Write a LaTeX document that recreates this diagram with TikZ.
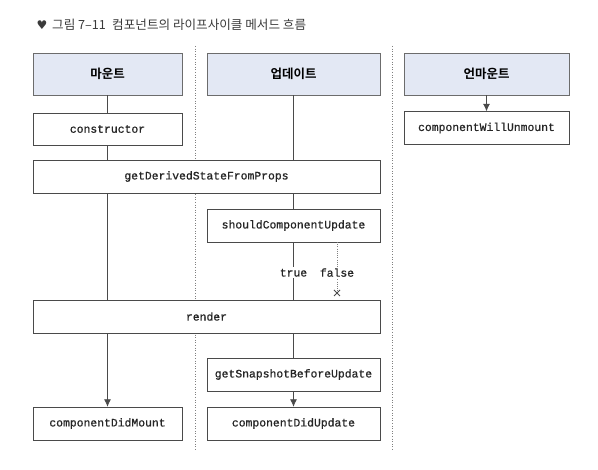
\documentclass[tikz,border=0pt]{standalone}
\usepackage{fontspec}
\setmonofont{Liberation Mono}[FakeBold=0.8]
\newfontfamily\kr{Noto Sans CJK KR}
\newfontfamily\krb{Noto Sans CJK KR Bold}
\newfontfamily\sym{DejaVu Sans}
\usetikzlibrary{arrows.meta}
\definecolor{headfill}{HTML}{E3E8F4}
\definecolor{linegray}{HTML}{4A4A4A}
\definecolor{titlegray}{HTML}{3A3A3A}

\begin{document}
\begin{tikzpicture}[x=1pt,y=-1pt,
  head node/.style={draw=gray!85!black,fill=headfill,minimum height=42pt,inner sep=0pt,font=\krb\fontsize{12.5}{14}\selectfont},
  fn node/.style={draw=linegray,fill=white,minimum height=33pt,inner sep=0pt,text=black!85,font=\ttfamily\fontsize{11.4}{13}\selectfont},
  cond node/.style={fill=white,inner sep=1.5pt,text=black!85,font=\ttfamily\fontsize{11.4}{13}\selectfont},
  flow/.style={draw=linegray,line width=0.8pt},
  divider/.style={draw=gray,line width=0.9pt,dash pattern=on 1pt off 1.6pt}]

  \useasboundingbox (0,0) rectangle (598,470);

  \node[anchor=west,text=titlegray,font=\kr\fontsize{12.6}{14}\selectfont] at (33,25) (title)
    {{\sym\fontsize{12}{14}\selectfont ♥}\, 그림 7–11\enspace 컴포넌트의 라이프사이클 메서드 흐름};

  \coordinate (d1top) at (195,46);
  \coordinate (d1bot) at (195,450);
  \coordinate (d2top) at (392,46);
  \coordinate (d2bot) at (392,450);
  \path[every edge/.style={divider}] (d1top) edge (d1bot) (d2top) edge (d2bot);

  \node[head node,minimum width=149pt] at (107.5,74) (mhead) {마운트};
  \node[head node,minimum width=173pt] at (293.5,74) (uhead) {업데이트};
  \node[head node,minimum width=165pt] at (486.5,74) (unhead) {언마운트};

  \node[fn node,minimum width=149pt,minimum height=32pt] at (107.5,129) (ctor) {constructor};
  \node[fn node,minimum width=165pt] at (486.5,128) (cwu) {componentWillUnmount};
  \node[fn node,minimum width=347pt] at (206.5,176.5) (gdsfp) {getDerivedStateFromProps};
  \node[fn node,minimum width=173pt] at (293.5,225.5) (scu) {shouldComponentUpdate};
  \node[fn node,minimum width=347pt] at (206.5,316.5) (render) {render};
  \node[fn node,minimum width=173pt] at (293.5,374.5) (gsbu) {getSnapshotBeforeUpdate};
  \node[fn node,minimum width=149pt] at (107.5,423.5) (cdm) {componentDidMount};
  \node[fn node,minimum width=173pt] at (293.5,423.5) (cdu) {componentDidUpdate};

  \coordinate (falsetop) at (337,242);
  \coordinate (nope) at (337,293);

  \path[every edge/.style={flow}]
    (mhead) edge (ctor)
    (ctor.south) edge (ctor.south |- gdsfp.north)
    (uhead.south) edge (uhead.south |- gdsfp.north)
    (gdsfp.south -| scu.north) edge (scu.north)
    (gdsfp.south -| ctor.south) edge (render.north -| ctor.south)
    (scu.south) edge node[cond node,pos=0.53] {true} (scu.south |- render.north)
    (render.south -| gsbu.north) edge (gsbu.north);

  \path[every edge/.style={flow,-{Latex[length=7.5pt,width=7pt]}}]
    (unhead) edge (cwu)
    (render.south -| cdm.north) edge (cdm.north)
    (gsbu) edge (cdu);

  \path[every edge/.style={draw=gray,line width=0.8pt,dash pattern=on 0.8pt off 1.4pt}]
    (falsetop) edge node[cond node,pos=0.6] {false} (nope);
  \draw[linegray,line width=0.9pt] ([shift={(-3,-3)}]nope) -- ([shift={(3,3)}]nope)
    ([shift={(-3,3)}]nope) -- ([shift={(3,-3)}]nope);
\end{tikzpicture}
\end{document}
